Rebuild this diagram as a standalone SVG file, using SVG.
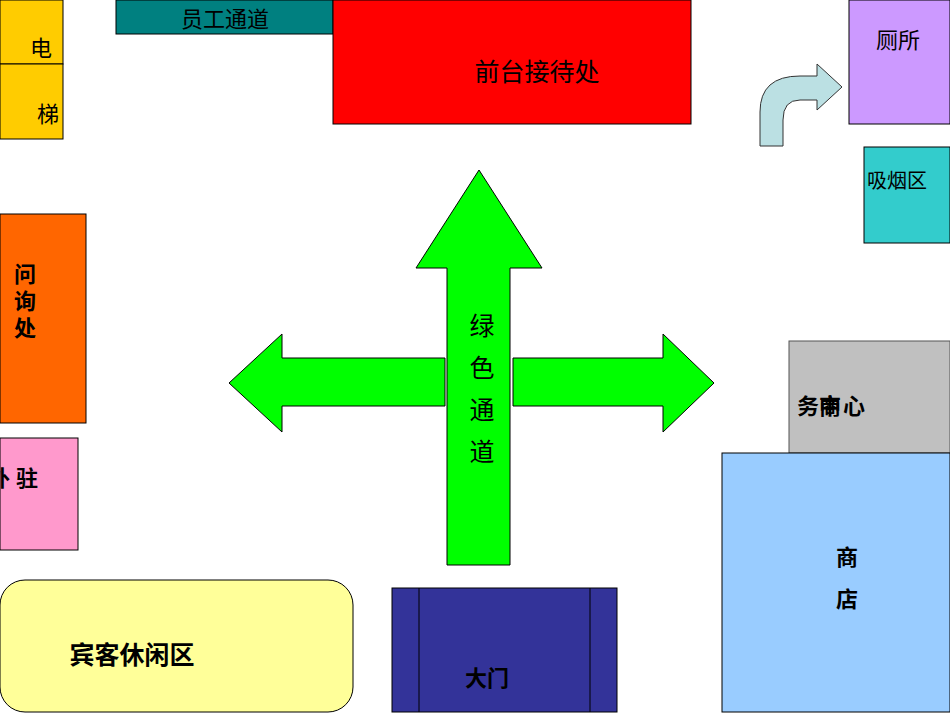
<svg xmlns="http://www.w3.org/2000/svg" width="950" height="713" viewBox="0 0 950 713">
<style>
.b{stroke:#000;stroke-width:1}
text{font-family:"Liberation Sans","Noto Sans CJK SC",sans-serif;fill:#000}
.big{font-size:22px}
.bld{font-size:22px;font-weight:bold}
</style>
<rect width="950" height="713" fill="#fff"/>
<g id="elevator">
<rect class="b" x="0" y="0" width="63" height="64" fill="#ffcc00"/>
<rect class="b" x="0" y="64" width="63" height="75" fill="#ffcc00"/>
<text class="big" x="30" y="56">电</text>
<text class="big" x="37" y="122">梯</text>
</g>
<g id="staff"><rect class="b" x="116" y="0" width="217" height="34" fill="#008080"/>
<text x="225" y="27" font-size="22" text-anchor="middle">员工通道</text></g>
<g id="reception"><rect class="b" x="333" y="0" width="358" height="124" fill="#ff0000"/>
<text x="537" y="81" font-size="25" text-anchor="middle">前台接待处</text></g>
<g id="toilet"><rect class="b" x="849" y="0" width="101" height="124" fill="#cc99ff"/>
<text x="898" y="48" class="big" text-anchor="middle">厕所</text></g>
<g id="smoking"><rect class="b" x="864" y="147" width="86" height="96" fill="#33cccc"/>
<text x="867" y="188" font-size="20">吸烟区</text></g>
<g id="info"><rect class="b" x="0" y="214" width="86" height="209" fill="#ff6600"/>
<text class="bld" x="14" y="282" font-size="24">问</text><text class="bld" x="14" y="309" font-size="24">询</text><text class="bld" x="14" y="336" font-size="24">处</text></g>
<g id="outpost"><rect class="b" x="0" y="438" width="78" height="112" fill="#ff99cc"/>
<text class="bld" x="-12" y="486" font-size="24">外 驻</text></g>
<g id="lounge"><rect class="b" x="0" y="580" width="353" height="132" rx="25" fill="#ffff99"/>
<text x="132" y="664" font-size="25" text-anchor="middle" font-weight="bold">宾客休闲区</text></g>
<g id="gate"><rect class="b" x="392" y="588" width="225" height="124" fill="#333399"/>
<line class="b" x1="419" y1="588" x2="419" y2="712"/><line class="b" x1="590" y1="588" x2="590" y2="712"/>
<text class="bld" x="487" y="686" text-anchor="middle" font-size="24">大门</text></g>
<g id="business"><rect x="789" y="341" width="161" height="112" fill="#c0c0c0" stroke="#555"/>
<text class="bld" x="797" y="414">务<tspan x="819">商</tspan><tspan x="819" y="414">中</tspan><tspan x="843" y="414">心</tspan></text></g>
<g id="shop"><rect class="b" x="722" y="453" width="228" height="259" fill="#99ccff"/>
<text class="bld" x="847" y="565" text-anchor="middle" font-size="24">商</text><text class="bld" x="847" y="607" text-anchor="middle" font-size="24">店</text></g>
<g id="connectors">
<path d="M760,146 L760,112 Q760,76 800,76 L817,76 L817,64 L842,87 L817,110 L817,100 L800,100 Q783,100 783,120 L783,146 Z" fill="#bbe0e3" stroke="#333"/>
<path d="M447,565 L447,268 L416,268 L479,170 L542,268 L510,268 L510,565 Z" fill="#00ff00" stroke="#000"/>
<path d="M445,358 L282,358 L282,334 L229,383 L282,432 L282,406 L445,406 Z" fill="#00ff00" stroke="#000"/>
<path d="M513,358 L663,358 L663,334 L714,383 L663,432 L663,406 L513,406 Z" fill="#00ff00" stroke="#000"/>
<text x="482" y="335" font-size="25" text-anchor="middle">绿</text>
<text x="482" y="377" font-size="25" text-anchor="middle">色</text>
<text x="482" y="419" font-size="25" text-anchor="middle">通</text>
<text x="482" y="461" font-size="25" text-anchor="middle">道</text>
</g>
</svg>
